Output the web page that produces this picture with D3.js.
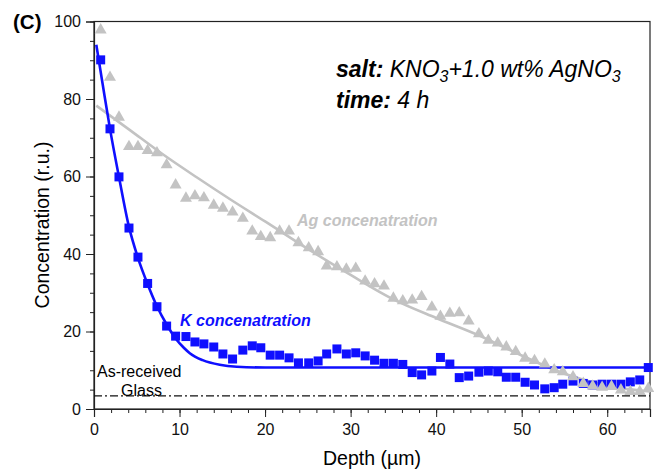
<!DOCTYPE html>
<html lang="en">
<head>
	<meta charset="utf-8">
	<title>Concentration vs depth</title>
	<script src="https://cdn.jsdelivr.net/npm/d3@7"></script>
	<style>
		body { margin: 0; background: #fff; }
		text { font-family: "Liberation Sans", Arial, sans-serif; }
	</style>
</head>
<body>
	<script>
		// depth positions (µm), shared by both measured series
		var depth = [0.78, 1.87, 2.92, 4.09, 5.14, 6.27, 7.36, 8.49, 9.54, 10.75,
			11.8, 12.85, 14.0, 15.07, 16.2, 17.4, 18.5, 19.5, 20.6, 21.7,
			22.8, 23.9, 25.1, 26.2, 27.2, 28.4, 29.5, 30.6, 31.7, 32.8,
			33.9, 35.0, 36.1, 37.2, 38.3, 39.5, 40.5, 41.6, 42.7, 43.8,
			45.0, 46.1, 47.2, 48.2, 49.3, 50.4, 51.5, 52.7, 53.8, 54.8,
			56.0, 57.2, 58.3, 59.4, 60.5, 61.6, 62.7, 63.8, 64.8];

		var kConc = [90.1, 72.3, 59.9, 46.7, 39.2, 32.4, 26.4, 21.4, 18.8, 18.7,
			17.3, 16.8, 16.0, 14.2, 12.9, 15.2, 16.3, 15.8, 13.9, 13.9,
			13.2, 11.9, 11.9, 12.4, 14.2, 15.5, 14.2, 14.5, 13.7, 12.6,
			11.8, 11.8, 11.5, 9.4, 8.8, 9.8, 13.3, 11.6, 8.1, 8.5,
			9.5, 9.8, 9.6, 8.2, 8.2, 6.9, 6.2, 5.2, 5.5, 6.4,
			7.2, 6.6, 6.2, 6.4, 6.4, 6.4, 7.0, 7.5, 10.7];

		var agConc = [97.8, 85.6, 75.3, 67.7, 67.7, 66.7, 66.1, 63.0, 57.8, 54.4,
			55.0, 54.5, 52.6, 51.8, 50.8, 49.2, 45.9, 44.5, 44.2, 45.9,
			45.9, 42.9, 41.6, 40.6, 36.9, 36.7, 36.1, 36.3, 33.0, 32.3,
			31.7, 28.6, 27.9, 28.1, 29.0, 26.3, 23.9, 24.7, 24.8, 22.7,
			19.4, 17.7, 17.0, 16.0, 14.8, 13.1, 12.5, 11.6, 10.1, 9.6,
			8.3, 6.6, 5.9, 5.6, 5.8, 4.9, 4.5, 4.5, 5.3];

		// fitted curves
		var kFitDepth = [0.27, 1.0, 1.87, 2.92, 4.09, 5.14, 6.27, 7.36, 8.49, 9.54, 10.5, 11.2, 12.7, 14.7, 16.7, 20, 65];
		var kFitConc = [94, 84, 72.3, 59.9, 47, 39, 32.2, 26.5, 21.8, 18.2, 15.8, 14.4, 12.6, 11.4, 10.9, 10.7, 10.7];

		var agFitDepth = [0.27, 4, 8, 12, 16, 20, 25, 30, 35, 40, 45, 50, 55, 60, 65];
		var agFitConc = [78.3, 72.3, 65.8, 59.8, 54.0, 48.4, 41.3, 34.6, 28.3, 23.5, 19.0, 13.8, 9.1, 6.0, 4.5];

		var glassLevel = 3.4;

		var xTicks = [0, 10, 20, 30, 40, 50, 60];
		var yTicks = [0, 20, 40, 60, 80, 100];

		var w = 654, h = 473;
		var blue = "#0f0fff", grey = "#c3c3c3";

		var svg = d3.select("body").append("svg")
			.attr("width", w)
			.attr("height", h);

		var x = d3.scaleLinear().domain([0, 65]).range([94, 650]);
		var y = d3.scaleLinear().domain([0, 100]).range([409, 21.5]);

		// frame
		svg.append("rect")
			.attr("x", x(0)).attr("y", y(100))
			.attr("width", x(65) - x(0)).attr("height", y(0) - y(100))
			.attr("fill", "none").attr("stroke", "#222").attr("stroke-width", 1.2);

		// axes: minor then major ticks
		svg.append("g").attr("transform", `translate(0,${y(0)})`)
			.call(d3.axisBottom(x).tickValues(d3.range(0, 65, 2)).tickSize(4).tickFormat(""))
			.call(g => g.select(".domain").remove());
		svg.append("g").attr("transform", `translate(${x(0)},0)`)
			.call(d3.axisLeft(y).tickValues(d3.range(0, 101, 5)).tickSize(4).tickFormat(""))
			.call(g => g.select(".domain").remove());

		var xAxis = svg.append("g").attr("transform", `translate(0,${y(0)})`)
			.call(d3.axisBottom(x).tickValues(xTicks).tickSize(8).tickPadding(7));
		var yAxis = svg.append("g").attr("transform", `translate(${x(0)},0)`)
			.call(d3.axisLeft(y).tickValues(yTicks).tickSize(8).tickPadding(5));
		[xAxis, yAxis].forEach(function (a) {
			a.select(".domain").attr("stroke", "#222").attr("stroke-width", 1.2);
			a.selectAll("text").attr("font-size", "16px").attr("fill", "#111")
				.style("font-family", "'Liberation Sans', Arial, sans-serif");
		});
		svg.selectAll(".tick line").attr("stroke", "#222");

		// axis titles
		svg.append("text")
			.attr("x", 372).attr("y", 465)
			.attr("text-anchor", "middle").attr("font-size", "19.5px")
			.text("Depth (µm)");
		svg.append("text")
			.attr("transform", "translate(49,225) rotate(-90)")
			.attr("text-anchor", "middle").attr("font-size", "19.5px")
			.text("Concentration (r.u.)");

		svg.append("text")
			.attr("x", 13).attr("y", 29)
			.attr("font-size", "20.5px").attr("font-weight", "bold")
			.text("(C)");

		// as-received glass level
		svg.append("line")
			.attr("x1", x(0)).attr("x2", x(65))
			.attr("y1", y(glassLevel)).attr("y2", y(glassLevel))
			.attr("stroke", "#111").attr("stroke-width", 1.2)
			.attr("stroke-dasharray", "8,3,2,3");
		svg.append("text").attr("x", 97).attr("y", 377).attr("font-size", "16px").text("As-received");
		svg.append("text").attr("x", 121).attr("y", 396).attr("font-size", "16px").text("Glass");

		var line = d3.line().curve(d3.curveMonotoneX)
			.x(d => x(d[0])).y(d => y(d[1]));

		// fitted lines
		svg.append("path")
			.datum(d3.zip(agFitDepth, agFitConc))
			.attr("d", line)
			.attr("fill", "none").attr("stroke", grey).attr("stroke-width", 2.6);
		svg.append("path")
			.datum(d3.zip(kFitDepth, kFitConc))
			.attr("d", line)
			.attr("fill", "none").attr("stroke", blue).attr("stroke-width", 2.6);

		// K squares
		var sq = 9;
		svg.selectAll(".k-pt")
			.data(d3.zip(depth, kConc))
			.enter().append("rect")
			.attr("class", "k-pt")
			.attr("x", d => x(d[0]) - sq / 2)
			.attr("y", d => y(d[1]) - sq / 2)
			.attr("width", sq).attr("height", sq)
			.attr("fill", blue);

		// Ag triangles
		var tri = d3.symbol().type(d3.symbolTriangle).size(62);
		svg.selectAll(".ag-pt")
			.data(d3.zip(depth, agConc))
			.enter().append("path")
			.attr("class", "ag-pt")
			.attr("transform", d => `translate(${x(d[0])},${y(d[1])})`)
			.attr("d", tri)
			.attr("fill", grey);

		// series labels
		svg.append("text")
			.attr("x", 180).attr("y", 326)
			.attr("font-size", "16px").attr("font-weight", "bold").attr("font-style", "italic")
			.attr("fill", blue)
			.text("K concenatration");
		svg.append("text")
			.attr("x", 297).attr("y", 226)
			.attr("font-size", "16px").attr("font-weight", "bold").attr("font-style", "italic")
			.attr("fill", grey)
			.text("Ag concenatration");

		// experiment note
		var note = svg.append("text")
			.attr("x", 336).attr("y", 77)
			.attr("font-size", "23px").attr("font-style", "italic");
		note.append("tspan").attr("font-weight", "bold").text("salt:");
		note.append("tspan").text(" KNO");
		note.append("tspan").attr("font-size", "16px").attr("dy", 5).text("3");
		note.append("tspan").attr("dy", -5).text("+1.0 wt% AgNO");
		note.append("tspan").attr("font-size", "16px").attr("dy", 5).text("3");

		var note2 = svg.append("text")
			.attr("x", 336).attr("y", 108)
			.attr("font-size", "23px").attr("font-style", "italic");
		note2.append("tspan").attr("font-weight", "bold").text("time:");
		note2.append("tspan").text(" 4 h");
	</script>
</body>
</html>
